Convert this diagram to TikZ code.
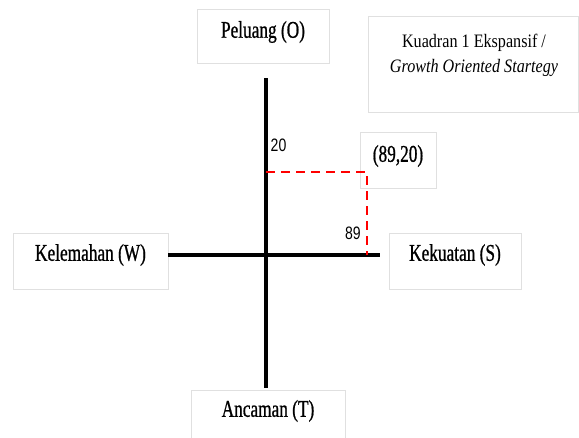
\documentclass[tikz,border=0pt]{standalone}
\usepackage{fontspec}
\setmainfont{Liberation Serif}
\newfontfamily\labfont[FakeStretch=0.72,FakeBold=0.8]{Liberation Serif}
\newfontfamily\quadfont[FakeStretch=0.85]{Liberation Serif}
\newfontfamily\numfont[FakeStretch=0.78]{Liberation Sans}
\begin{document}
\begin{tikzpicture}[x=1pt,y=-1pt,
  box/.style={draw=black!12,line width=1pt,fill=white,inner sep=0pt,rectangle},
  lbl/.style={inner sep=0pt,font=\labfont\fontsize{24}{28}\selectfont},
  num/.style={inner sep=0pt,font=\numfont\fontsize{18}{20}\selectfont},
  axis/.style={line width=3.2pt,black},
  guide/.style={red,line width=2.6pt,dash pattern=on 9pt off 6pt}]
\useasboundingbox (0,0) rectangle (579,437);
% boxes
\node[box,minimum width=132,minimum height=54] (P) at (263,36) {};
\node[lbl] (Ptxt) at (263,32) {Peluang (O)};
\node[box,minimum width=210,minimum height=96] (Q) at (473,64) {};
\node[inner sep=0pt,align=center,font=\quadfont\fontsize{19}{25}\selectfont] (Qtxt) at (474,55) {Kuadran 1 Ekspansif /\\ \textit{Growth Oriented Startegy}};
\node[box,minimum width=76,minimum height=56] (C) at (398,160) {};
\node[lbl] (Ctxt) at (398,156) {(89,20)};
\node[box,minimum width=155,minimum height=56] (W) at (90.5,261) {};
\node[lbl] (Wtxt) at (90.5,255) {Kelemahan (W)};
\node[box,minimum width=132,minimum height=56] (S) at (455,261) {};
\node[lbl] (Stxt) at (455,255) {Kekuatan (S)};
\node[box,minimum width=154,minimum height=55] (T) at (268,417.5) {};
\node[lbl] (Ttxt) at (268,411) {Ancaman (T)};
% axes
\coordinate (vtop) at (266,78);
\coordinate (vbot) at (266,388);
\coordinate (hl) at (168,255);
\coordinate (hr) at (380,255);
\draw[axis] (vtop) -- (vbot);
\draw[axis] (hl) -- (hr);
% guide lines
\coordinate (y20) at (266,172);
\coordinate (pt) at (367,172);
\coordinate (x89) at (367,255);
\draw[guide] (y20) -- (pt) -- (x89);
\node[num] (n20) at (278.5,145) {20};
\node[num] (n89) at (353,233) {89};
\end{tikzpicture}
\end{document}
